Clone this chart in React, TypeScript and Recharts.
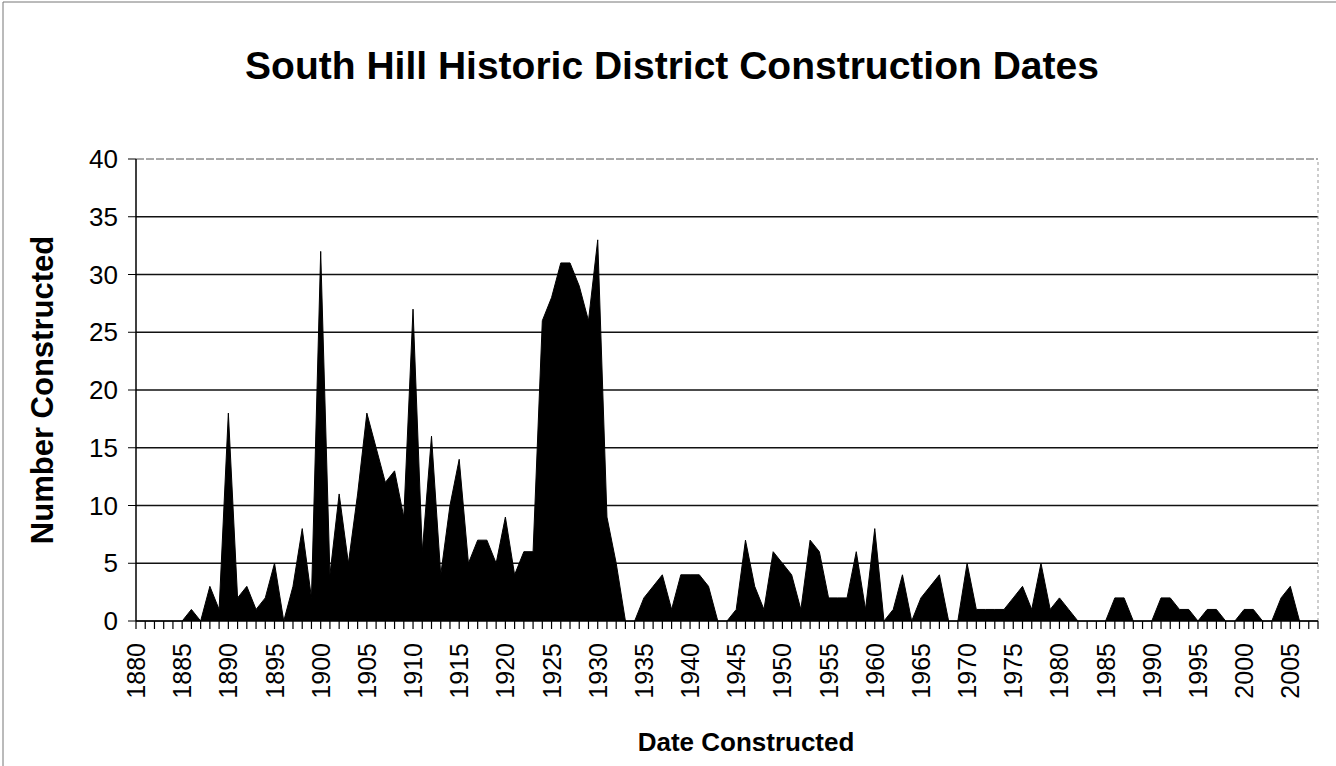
import React from 'react';
import { AreaChart, Area, XAxis, YAxis, CartesianGrid, ReferenceLine } from 'recharts';

const YEARS = [
  1880, 1881, 1882, 1883, 1884, 1885, 1886, 1887, 1888, 1889,
  1890, 1891, 1892, 1893, 1894, 1895, 1896, 1897, 1898, 1899,
  1900, 1901, 1902, 1903, 1904, 1905, 1906, 1907, 1908, 1909,
  1910, 1911, 1912, 1913, 1914, 1915, 1916, 1917, 1918, 1919,
  1920, 1921, 1922, 1923, 1924, 1925, 1926, 1927, 1928, 1929,
  1930, 1931, 1932, 1933, 1934, 1935, 1936, 1937, 1938, 1939,
  1940, 1941, 1942, 1943, 1944, 1945, 1946, 1947, 1948, 1949,
  1950, 1951, 1952, 1953, 1954, 1955, 1956, 1957, 1958, 1959,
  1960, 1961, 1962, 1963, 1964, 1965, 1966, 1967, 1968, 1969,
  1970, 1971, 1972, 1973, 1974, 1975, 1976, 1977, 1978, 1979,
  1980, 1981, 1982, 1983, 1984, 1985, 1986, 1987, 1988, 1989,
  1990, 1991, 1992, 1993, 1994, 1995, 1996, 1997, 1998, 1999,
  2000, 2001, 2002, 2003, 2004, 2005, 2006, 2007, 2008,
];

// buildings constructed per year, one row per decade
const COUNTS = [
  0, 0, 0, 0, 0, 0, 1, 0, 3, 1,
  18, 2, 3, 1, 2, 5, 0, 3, 8, 2,
  32, 4, 11, 5, 11, 18, 15, 12, 13, 9,
  27, 6, 16, 4, 10, 14, 5, 7, 7, 5,
  9, 4, 6, 6, 26, 28, 31, 31, 29, 26,
  33, 9, 5, 0, 0, 2, 3, 4, 1, 4,
  4, 4, 3, 0, 0, 1, 7, 3, 1, 6,
  5, 4, 1, 7, 6, 2, 2, 2, 6, 1,
  8, 0, 1, 4, 0, 2, 3, 4, 0, 0,
  5, 1, 1, 1, 1, 2, 3, 1, 5, 1,
  2, 1, 0, 0, 0, 0, 2, 2, 0, 0,
  0, 2, 2, 1, 1, 0, 1, 1, 0, 0,
  1, 1, 0, 0, 2, 3, 0, 0, 0,
];

const Y_TICKS = [0, 5, 10, 15, 20, 25, 30, 35, 40];
const GRID_VALUES = [5, 10, 15, 20, 25, 30, 35];

const FONT = 'Arial, "Liberation Sans", sans-serif';

const data = YEARS.map((year, i) => ({ year, count: COUNTS[i] }));

const YearTick = (props: any) => {
  const { x, y, payload } = props;
  const year = Number(payload.value);
  return (
    <g>
      <line x1={x} y1={y - 8} x2={x} y2={y} stroke="#000" strokeWidth={1.2} />
      {year % 5 === 0 && (
        <text
          x={x}
          y={y + 14}
          transform={`rotate(-90, ${x}, ${y + 14})`}
          textAnchor="end"
          dy="0.36em"
          fontSize={25}
          fontFamily={FONT}
          fill="#000"
        >
          {year}
        </text>
      )}
    </g>
  );
};

export default function App() {
  return (
    <div style={{ position: 'absolute', left: 0, top: 0, width: 1336, height: 766, background: '#fff' }}>
      <AreaChart width={1336} height={766} data={data} margin={{ top: 159, right: 18, bottom: 0, left: 0 }}>
        <CartesianGrid vertical={false} horizontalValues={GRID_VALUES} stroke="#111" strokeWidth={1.5} />
        <ReferenceLine y={40} stroke="#555" strokeDasharray="8 2" />
        <ReferenceLine x={2008} stroke="#999" strokeDasharray="3 3" />
        <XAxis
          dataKey="year"
          height={145}
          interval={0}
          tickSize={8}
          tickMargin={0}
          tickLine={false}
          axisLine={{ stroke: '#000', strokeWidth: 1.5 }}
          tick={YearTick}
        />
        <YAxis
          width={136}
          domain={[0, 40]}
          ticks={Y_TICKS}
          tickSize={8}
          tickMargin={10}
          axisLine={{ stroke: '#000', strokeWidth: 1.5 }}
          tickLine={{ stroke: '#000' }}
          tick={{ fontSize: 26, fill: '#000', fontFamily: FONT }}
        />
        <Area
          type="linear"
          dataKey="count"
          stroke="#000"
          fill="#000"
          fillOpacity={1}
          dot={false}
          activeDot={false}
          isAnimationActive={false}
        />
      </AreaChart>
      <svg width={1336} height={766} style={{ position: 'absolute', left: 0, top: 0, pointerEvents: 'none' }}>
        <line x1={3} y1={2} x2={1336} y2={2} stroke="#777" strokeWidth={1} />
        <line x1={3} y1={2} x2={3} y2={766} stroke="#777" strokeWidth={1} />
        <text x={672} y={79} textAnchor="middle" fontSize={39} fontWeight="bold" fontFamily={FONT} fill="#000">
          South Hill Historic District Construction Dates
        </text>
        <text
          x={53}
          y={390}
          transform="rotate(-90, 53, 390)"
          textAnchor="middle"
          fontSize={31}
          fontWeight="bold"
          fontFamily={FONT}
          fill="#000"
        >
          Number Constructed
        </text>
        <text x={746} y={751} textAnchor="middle" fontSize={26} fontWeight="bold" fontFamily={FONT} fill="#000">
          Date Constructed
        </text>
      </svg>
    </div>
  );
}
